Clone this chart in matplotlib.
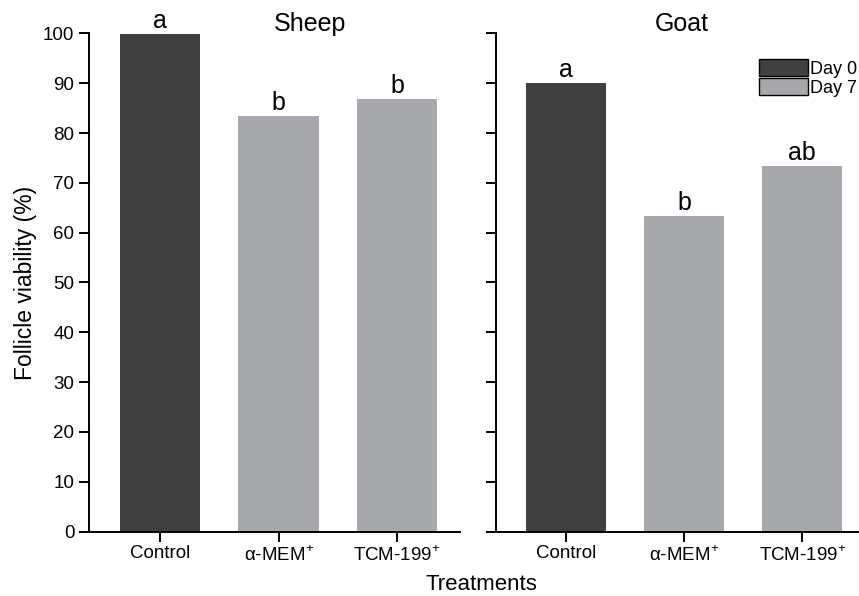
import matplotlib
matplotlib.use("Agg")
import matplotlib.pyplot as plt
from matplotlib.patches import Patch

plt.rcParams['font.family'] = ['Liberation Sans', 'DejaVu Sans']
plt.rcParams['mathtext.fontset'] = 'custom'
plt.rcParams['mathtext.rm'] = 'Liberation Sans'

# data
treatments = ["Control", r"α-MEM$^{\mathrm{+}}$", r"TCM-199$^{\mathrm{+}}$"]
sheep_vals = [99.8, 83.4, 86.8]
goat_vals = [90.0, 63.4, 73.4]
sheep_letters = ["a", "b", "b"]
goat_letters = ["a", "b", "ab"]
day_groups = ["Day 0", "Day 7", "Day 7"]
panels = ["Sheep", "Goat"]

DARK = "#404040"
LIGHT = "#a7a8ab"
colors = [DARK if d == "Day 0" else LIGHT for d in day_groups]

fig = plt.figure(figsize=(8.59, 5.96), dpi=100)
ax1 = fig.add_axes([89 / 859, 1 - 531.5 / 596, (460 - 89) / 859, (531.5 - 33.4) / 596])
ax2 = fig.add_axes([496 / 859, 1 - 531.5 / 596, (859 - 496) / 859, (531.5 - 33.4) / 596])

x = list(range(len(treatments)))
for ax, vals, letters, xlim in [
    (ax1, sheep_vals, sheep_letters, (-0.6, 2.53)),
    (ax2, goat_vals, goat_letters, (-0.59, 2.48)),
]:
    ax.bar(x, vals, width=0.68, color=colors, edgecolor="none")
    for xi, v, lab in zip(x, vals, letters):
        ax.text(xi, v + 0.2, lab, ha="center", va="bottom", fontsize=18)
    ax.set_xlim(*xlim)
    ax.set_ylim(0, 100)
    ax.set_yticks(range(0, 101, 10))
    ax.set_xticks(x)
    ax.set_xticklabels(treatments, fontsize=13)
    ax.spines["top"].set_visible(False)
    ax.spines["right"].set_visible(False)
    ax.spines["left"].set_linewidth(1.4)
    ax.spines["bottom"].set_linewidth(1.4)
    ax.spines["bottom"].set_clip_on(False)
    ax.tick_params(axis="both", direction="out", length=7, width=1.4, labelsize=13.5)
    ax.tick_params(axis="x", pad=3)

ax2.set_yticklabels([])
ax1.set_ylabel("Follicle viability (%)", fontsize=16.5, labelpad=4)

fig.text(310 / 859, 1 - 24 / 596, panels[0], ha="center", va="center", fontsize=18)
fig.text(682 / 859, 1 - 24 / 596, panels[1], ha="center", va="center", fontsize=18)
fig.text(481 / 859, 1 - 585 / 596, "Treatments", ha="center", va="center", fontsize=16)

handles = [Patch(facecolor=DARK, edgecolor="black", linewidth=1.0),
           Patch(facecolor=LIGHT, edgecolor="black", linewidth=1.0)]
fig.legend(handles, ["Day 0", "Day 7"], loc="upper left",
           bbox_to_anchor=(759 / 859, 1 - 59 / 596), frameon=False,
           fontsize=13, handlelength=2.7, handleheight=1.1, handletextpad=0.15,
           labelspacing=0.0, borderpad=0, borderaxespad=0)

fig.savefig("out.png", dpi=100)
